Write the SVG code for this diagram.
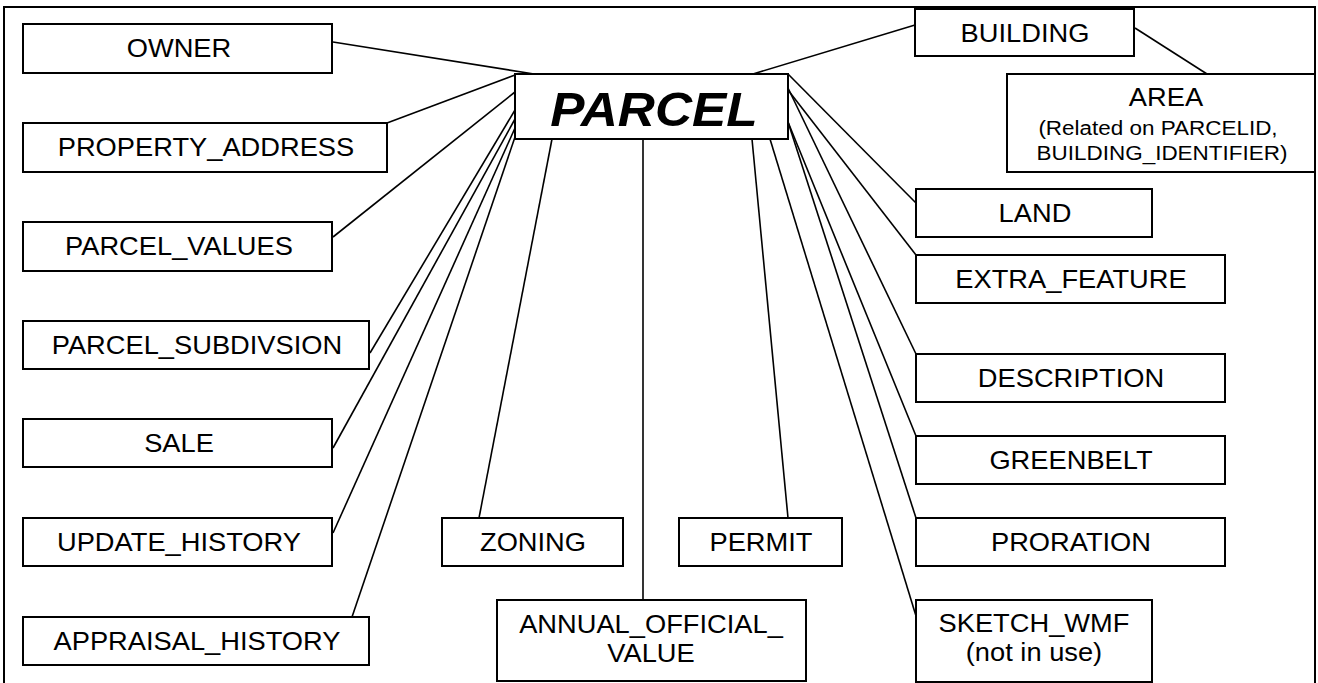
<svg xmlns="http://www.w3.org/2000/svg" width="1318" height="683" viewBox="0 0 1318 683">
<style>
.box{fill:#fff;stroke:#000;stroke-width:2}
.t{font-family:"Liberation Sans",Arial,sans-serif;font-size:25.5px;text-anchor:middle;fill:#000;transform-box:fill-box;transform-origin:center;transform:scaleX(1.07)}
.s{font-size:21px}
.p{font-size:48px;font-weight:bold;font-style:italic}
.c line{stroke:#000;stroke-width:1.6}
</style>
<rect width="1318" height="683" fill="#fff"/>
<path d="M4,690 V7 H1315 V690" fill="none" stroke="#000" stroke-width="2"/>
<g class="c" id="connectors">
<line x1="333" y1="42" x2="534" y2="74"/>
<line x1="387" y1="123" x2="515" y2="75"/>
<line x1="333" y1="237" x2="515" y2="92"/>
<line x1="370" y1="353" x2="515" y2="110"/>
<line x1="333" y1="448" x2="515" y2="119"/>
<line x1="333" y1="533" x2="515" y2="128"/>
<line x1="352" y1="617" x2="515" y2="137"/>
<line x1="479" y1="518" x2="552" y2="139"/>
<line x1="643" y1="600" x2="643" y2="139"/>
<line x1="788" y1="518" x2="752" y2="139"/>
<line x1="916" y1="616" x2="770" y2="139"/>
<line x1="916" y1="518" x2="788" y2="122"/>
<line x1="916" y1="436" x2="788" y2="122"/>
<line x1="916" y1="354" x2="788" y2="88"/>
<line x1="916" y1="255" x2="788" y2="90"/>
<line x1="916" y1="203" x2="788" y2="74"/>
<line x1="915" y1="25" x2="753" y2="74"/>
<line x1="1135" y1="28" x2="1207" y2="74"/>
</g>
<g id="parcel"><rect class="box" x="515" y="74" width="273" height="65"/><text class="t p" x="654" y="126">PARCEL</text></g>
<g id="owner"><rect class="box" x="23" y="24" width="309" height="49"/><text class="t" x="179" y="57">OWNER</text></g>
<g id="property_address"><rect class="box" x="23" y="123" width="364" height="49"/><text class="t" x="206" y="156">PROPERTY_ADDRESS</text></g>
<g id="parcel_values"><rect class="box" x="23" y="222" width="309" height="49"/><text class="t" x="179" y="255">PARCEL_VALUES</text></g>
<g id="parcel_subdivsion"><rect class="box" x="23" y="321" width="346" height="48"/><text class="t" x="197" y="354">PARCEL_SUBDIVSION</text></g>
<g id="sale"><rect class="box" x="23" y="419" width="309" height="48"/><text class="t" x="179" y="452">SALE</text></g>
<g id="update_history"><rect class="box" x="23" y="518" width="309" height="48"/><text class="t" x="179" y="551">UPDATE_HISTORY</text></g>
<g id="appraisal_history"><rect class="box" x="23" y="617" width="346" height="48"/><text class="t" x="197" y="650">APPRAISAL_HISTORY</text></g>
<g id="zoning"><rect class="box" x="442" y="518" width="181" height="48"/><text class="t" x="533" y="551">ZONING</text></g>
<g id="permit"><rect class="box" x="679" y="518" width="163" height="48"/><text class="t" x="761" y="551">PERMIT</text></g>
<g id="annual_official_value"><rect class="box" x="497" y="600" width="309" height="81"/><text class="t" x="651" y="633">ANNUAL_OFFICIAL_</text><text class="t" x="651" y="662">VALUE</text></g>
<g id="building"><rect class="box" x="915" y="9" width="219" height="47"/><text class="t" x="1025" y="42">BUILDING</text></g>
<g id="area"><rect class="box" x="1007" y="74" width="308" height="98"/><text class="t" x="1166" y="106">AREA</text><text class="t s" x="1158" y="135">(Related on PARCELID,</text><text class="t s" x="1162" y="160">BUILDING_IDENTIFIER)</text></g>
<g id="land"><rect class="box" x="916" y="189" width="236" height="48"/><text class="t" x="1035" y="222">LAND</text></g>
<g id="extra_feature"><rect class="box" x="916" y="255" width="309" height="48"/><text class="t" x="1071" y="288">EXTRA_FEATURE</text></g>
<g id="description"><rect class="box" x="916" y="354" width="309" height="48"/><text class="t" x="1071" y="387">DESCRIPTION</text></g>
<g id="greenbelt"><rect class="box" x="916" y="436" width="309" height="48"/><text class="t" x="1071" y="469">GREENBELT</text></g>
<g id="proration"><rect class="box" x="916" y="518" width="309" height="48"/><text class="t" x="1071" y="551">PRORATION</text></g>
<g id="sketch_wmf"><rect class="box" x="916" y="600" width="236" height="82"/><text class="t" x="1034" y="632">SKETCH_WMF</text><text class="t" x="1034" y="661">(not in use)</text></g>
</svg>
